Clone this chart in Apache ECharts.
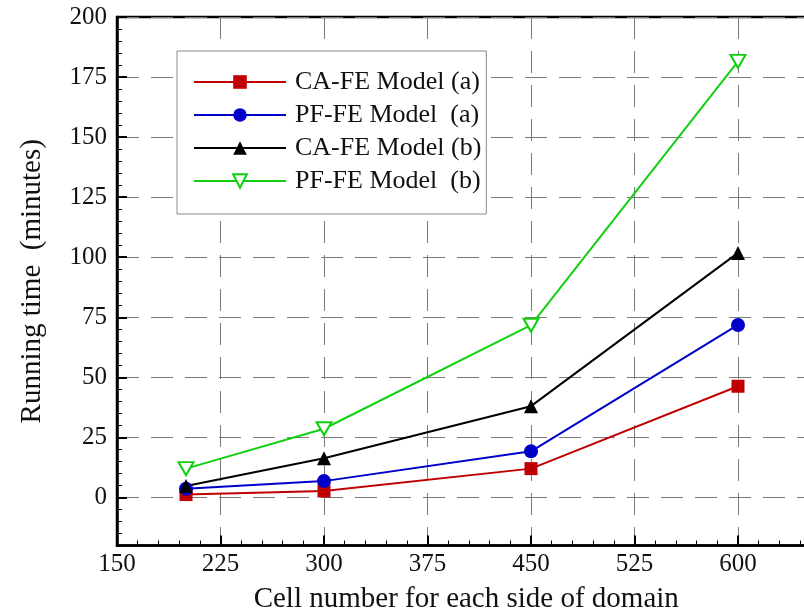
<!DOCTYPE html>
<html lang="en">
  <head>
    <meta charset="UTF-8">
    <title>Running time</title>
    <style>
      html, body { margin: 0; padding: 0; background: #fff; }
      #main { width: 804px; height: 613px; }
    </style>
  </head>
  <body>
    <div id="main"></div>
    <script src="https://cdn.jsdelivr.net/npm/echarts@6/dist/echarts.min.js"></script>
    <script>
      // cell number per side
      var cells = [200, 300, 450, 600];
      // running time (minutes)
      var caA = [1.2, 2.7, 12, 46.3];
      var pfA = [3.6, 6.8, 19.2, 71.8];
      var caB = [4.8, 16.3, 38, 101.8];
      var pfB = [12, 28.6, 71.7, 181.5];
      var names = ['CA-FE Model (a)', 'PF-FE Model  (a)', 'CA-FE Model (b)', 'PF-FE Model  (b)'];

      var font = "'Liberation Serif', 'Times New Roman', serif";

      function pairs(ys) {
        return cells.map(function (x, i) { return [x, ys[i]]; });
      }

      var gridLine = { show: true, lineStyle: { color: '#7a7a7a', width: 1, type: [22, 12] } };
      var plotTop = 17, plotH = 528.5, plotW = 724.5;
      // the y=0 line sits 200/220 of the way down, the upper grid holds the 0..200 labels
      var zeroH = plotH * 200 / 220;

      var myChart = echarts.init(document.getElementById('main'));
      var option = {
        backgroundColor: '#fff',
        animation: false,
        grid: [{
          left: 117, top: plotTop, width: plotW, height: plotH,
          outerBoundsMode: 'none', containLabel: false,
          show: true, borderColor: '#000', borderWidth: 2.5
        }, {
          left: 117, top: plotTop, width: plotW, height: zeroH,
          outerBoundsMode: 'none', containLabel: false
        }],
        legend: {
          orient: 'vertical',
          left: 177, top: 51,
          itemWidth: 92, itemHeight: 17, itemGap: 7,
          padding: [18, 5, 20, 16],
          backgroundColor: '#fff',
          borderColor: '#8a8a8a', borderWidth: 1,
          textStyle: { fontFamily: font, fontSize: 26, color: '#111', padding: [0, 0, 0, 4] },
          data: names
        },
        xAxis: [{
          type: 'value', min: 150, max: 675, interval: 75, gridIndex: 0,
          name: 'Cell number for each side of domain',
          nameLocation: 'middle', nameGap: 39,
          nameTextStyle: { fontFamily: font, fontSize: 29, color: '#111', padding: [0, 26, 0, 0] },
          axisLine: { show: true, onZero: false, lineStyle: { color: '#000', width: 2.5 } },
          axisTick: { show: true, inside: true, length: 10, lineStyle: { color: '#000', width: 2 } },
          minorTick: { show: true, splitNumber: 5, length: 5, lineStyle: { color: '#000', width: 1 } },
          axisLabel: { fontFamily: font, fontSize: 25, color: '#111', margin: 6 },
          splitLine: gridLine
        }, {
          type: 'value', min: 150, max: 675, gridIndex: 1, show: false
        }],
        yAxis: [{
          // minor ticks every 5 minutes, full range
          type: 'value', min: -20, max: 200, interval: 5, gridIndex: 0, position: 'left',
          name: 'Running time  (minutes)',
          nameLocation: 'middle', nameGap: 70,
          nameTextStyle: { fontFamily: font, fontSize: 29, color: '#111' },
          axisLine: { show: true, onZero: false, lineStyle: { color: '#000', width: 2.5 } },
          axisTick: { show: true, inside: true, length: 5, lineStyle: { color: '#000', width: 1 } },
          axisLabel: { show: false },
          splitLine: { show: false }
        }, {
          // major ticks, labels and grid lines 0..200
          type: 'value', min: 0, max: 200, interval: 25, gridIndex: 1, position: 'left',
          axisLine: { show: false },
          axisTick: { show: true, inside: true, length: 10, lineStyle: { color: '#000', width: 2 } },
          axisLabel: { fontFamily: font, fontSize: 25, color: '#111', margin: 10 },
          splitLine: gridLine
        }],
        series: [{
          name: names[0], type: 'line', data: pairs(caA),
          symbol: 'rect', symbolSize: 13,
          lineStyle: { color: '#c00000', width: 2 },
          itemStyle: { color: '#c00000' }
        }, {
          name: names[1], type: 'line', data: pairs(pfA),
          symbol: 'circle', symbolSize: 14,
          lineStyle: { color: '#0000c8', width: 2 },
          itemStyle: { color: '#0000c8' }
        }, {
          name: names[2], type: 'line', data: pairs(caB),
          symbol: 'triangle', symbolSize: 14,
          lineStyle: { color: '#000', width: 2 },
          itemStyle: { color: '#000' }
        }, {
          name: names[3], type: 'line', data: pairs(pfB),
          symbol: 'path://M0,0 L10,0 L5,9 Z', symbolSize: [15, 13],
          lineStyle: { color: '#10d010', width: 2 },
          itemStyle: { color: '#fff', borderColor: '#10d010', borderWidth: 2 }
        }]
      };
      myChart.setOption(option);
    </script>
  </body>
</html>
